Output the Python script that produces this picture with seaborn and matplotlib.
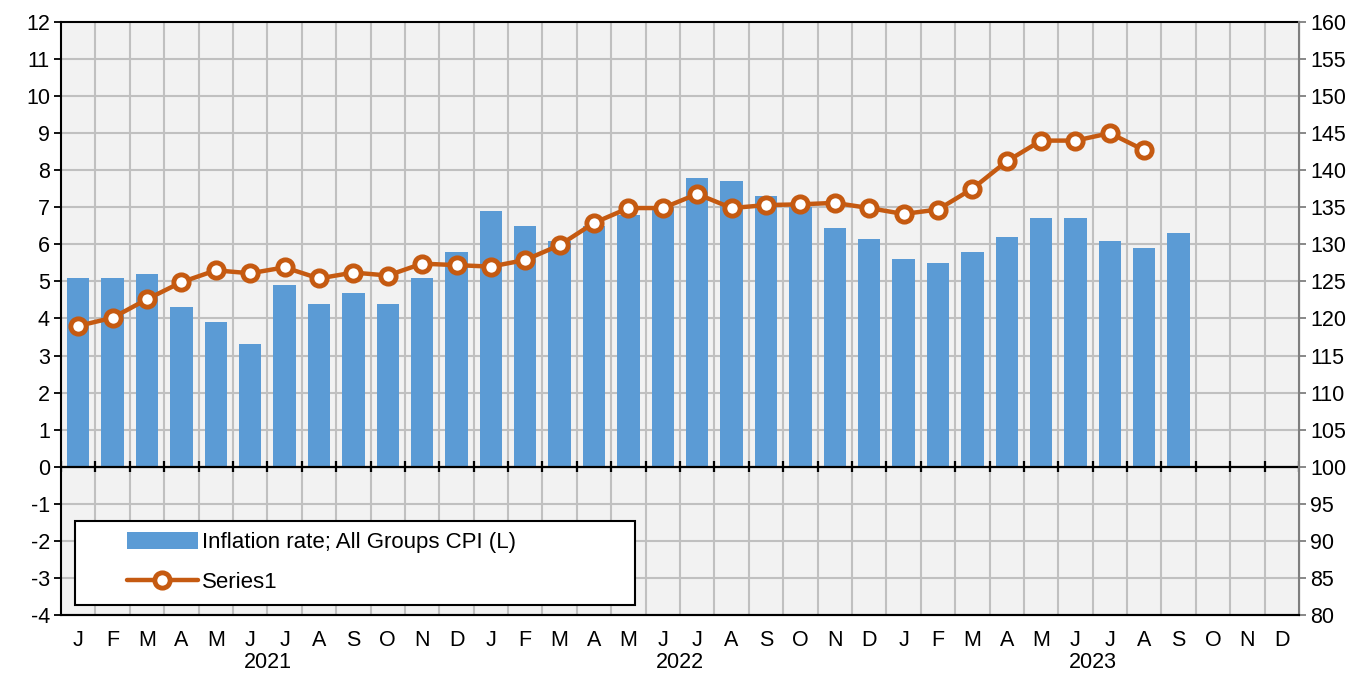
import numpy as np
import pandas as pd
import matplotlib
matplotlib.use('Agg')
import matplotlib.pyplot as plt
import matplotlib.transforms as mtransforms
from matplotlib.patches import Rectangle, Patch
from matplotlib.lines import Line2D
import seaborn as sns

# Month labels and years
months = ['J', 'F', 'M', 'A', 'M', 'J', 'J', 'A', 'S', 'O', 'N', 'D']
years = ['2021', '2022', '2023']

# Inflation rate, All Groups CPI (left axis, %), Jan 2021 - Sep 2023
inflation = [5.1, 5.1, 5.2, 4.3, 3.9, 3.3, 4.9, 4.4, 4.7, 4.4, 5.1, 5.8,
             6.9, 6.5, 6.1, 6.5, 6.8, 7.0, 7.8, 7.7, 7.3, 7.0, 6.45, 6.15,
             5.6, 5.5, 5.8, 6.2, 6.7, 6.7, 6.1, 5.9, 6.3]

# Series1 (right axis), Jan 2021 - Aug 2023
series1 = [119.0, 120.1, 122.6, 124.9, 126.5, 126.1, 126.9, 125.4, 126.2, 125.8, 127.4, 127.2,
           127.0, 127.9, 129.9, 132.9, 134.9, 134.9, 136.8, 134.9, 135.3, 135.4, 135.6, 134.9,
           134.1, 134.7, 137.5, 141.2, 144.0, 144.0, 145.0, 142.7]

bar_color = '#5B9BD5'
line_color = '#C55A11'
grid_color = '#C0C0C0'
fs = 15.5

periods = [f'{months[i % 12]}{i}' for i in range(len(years) * 12)]
n = len(periods)
bar_df = pd.DataFrame({'period': periods[:len(inflation)], 'inflation': inflation})
line_df = pd.DataFrame({'pos': np.arange(len(series1)), 'series1': series1})

sns.set_style('white')
plt.rcParams['font.family'] = ['Liberation Sans', 'DejaVu Sans']
plt.rcParams['axes.unicode_minus'] = False
plt.rcParams['text.color'] = 'black'
plt.rcParams['xtick.color'] = 'black'
plt.rcParams['ytick.color'] = 'black'

fig = plt.figure(figsize=(13.72, 6.75), dpi=100)
ax = fig.add_axes([0.0445, 0.0889, 0.9023, 0.8785])
ax.set_facecolor('#F2F2F2')

# grid
for k in range(1, n):
    ax.axvline(k - 0.5, color=grid_color, lw=1.5, zorder=0)
for v in range(-3, 12):
    ax.axhline(v, color=grid_color, lw=1.5, zorder=0)

sns.barplot(data=bar_df, x='period', y='inflation', order=periods, color=bar_color,
            width=0.65, saturation=1, linewidth=0, ax=ax, zorder=2)

ax.set_xlim(-0.5, n - 0.5)
ax.set_ylim(-4, 12)
ax.set_yticks(range(-4, 13))
ax.set_xticks(range(n))
ax.set_xticklabels([months[i % 12] for i in range(n)])
ax.set_xlabel('')
ax.set_ylabel('')
ax.tick_params(axis='x', length=0, pad=11, labelsize=fs, labelcolor='black')
ax.tick_params(axis='y', length=5, width=1.3, color='black', direction='out', labelsize=fs,
               pad=3, labelcolor='black')

# zero line with category tick marks
ax.axhline(0, color='black', lw=1.6, zorder=3)
ax.vlines(np.arange(n + 1) - 0.5, -0.15, 0.15, color='black', lw=1.6, zorder=3)

for s in ['left', 'top', 'bottom']:
    ax.spines[s].set_color('black')
    ax.spines[s].set_linewidth(1.5)
    ax.spines[s].set_visible(True)

# year labels
trans = mtransforms.blended_transform_factory(ax.transData, ax.transAxes)
for i, y in enumerate(years):
    ax.text(12 * i + 5.5, -0.08, y, transform=trans, ha='center', va='center',
            fontsize=fs, color='black')

# right axis
ax2 = ax.twinx()
sns.lineplot(data=line_df, x='pos', y='series1', ax=ax2, color=line_color, lw=3.2,
             marker='o', markersize=11, markerfacecolor='white',
             markeredgecolor=line_color, markeredgewidth=3.5, zorder=4)
ax2.set_ylim(80, 160)
ax2.set_yticks(range(80, 161, 5))
ax2.set_ylabel('')
ax2.set_xlabel('')
ax2.set_xlim(-0.5, n - 0.5)
ax2.tick_params(axis='y', length=5, width=1.3, color='#7F7F7F', direction='out', labelsize=fs,
                pad=3, labelcolor='black')
ax2.spines['right'].set_color('#7F7F7F')
ax2.spines['right'].set_linewidth(1.5)
ax2.spines['right'].set_visible(True)
ax2.spines['bottom'].set_color('black')
ax2.spines['bottom'].set_linewidth(1.5)
ax2.spines['bottom'].set_visible(True)
ax2.spines['top'].set_visible(False)
ax2.spines['left'].set_visible(False)
ax2.grid(False)

# legend box
ax2.add_patch(Rectangle((0.0113, 0.0169), 0.452, 0.142, transform=ax2.transAxes,
                        facecolor='white', edgecolor='black', lw=1.5, zorder=5))
handles = [Patch(facecolor=bar_color, edgecolor='none', label='Inflation rate; All Groups CPI (L)'),
           Line2D([], [], color=line_color, lw=3.2, marker='o', markersize=11,
                  markerfacecolor='white', markeredgecolor=line_color, markeredgewidth=3.5,
                  label='Series1')]
leg = ax2.legend(handles=handles, loc='center left', bbox_to_anchor=(0.046, 0.088),
                 frameon=False, fontsize=fs + 0.5, handlelength=3.2, handleheight=0.8,
                 handletextpad=0.2, labelspacing=0.85, borderaxespad=0, labelcolor='black')
leg.set_zorder(6)

fig.savefig('out.png', dpi=100)
